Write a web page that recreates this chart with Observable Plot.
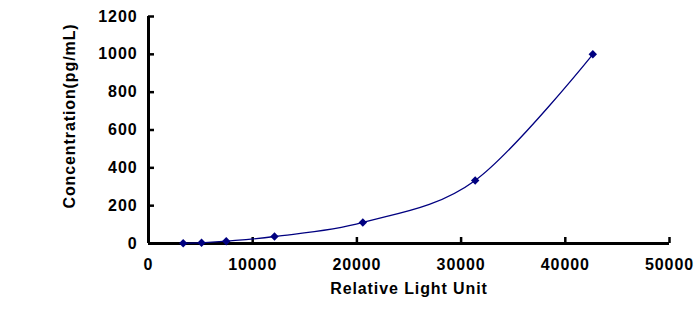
<!DOCTYPE html>
<html>
<head>
<meta charset="utf-8">
<script src="https://cdn.jsdelivr.net/npm/d3@7"></script>
<script src="https://cdn.jsdelivr.net/npm/@observablehq/plot@0.6"></script>
<style>
  html, body { margin: 0; padding: 0; background: #fff; }
  #chart svg { display: block; }
  #chart svg text { letter-spacing: 0.9px; }
</style>
</head>
<body>
<div id="chart"></div>
<script>
const rlu = [3330, 5090, 7460, 12090, 20570, 31350, 42640];
const concentration = [1.37, 4.12, 12.35, 37.04, 111.11, 333.33, 1000];
const xTicks = [0, 10000, 20000, 30000, 40000, 50000];
const yTicks = [0, 200, 400, 600, 800, 1000, 1200];

const data = rlu.map((x, i) => ({x, y: concentration[i]}));
const fmt = d3.format("d");

const chart = Plot.plot({
  width: 698,
  height: 314,
  marginLeft: 148,
  marginRight: 29,
  marginTop: 16,
  marginBottom: 71,
  style: {fontFamily: "'Liberation Sans', Arial, sans-serif", fontSize: "16px", fontWeight: "bold", color: "#000", background: "#fff"},
  x: {domain: [0, 50000]},
  y: {domain: [0, 1200]},
  marks: [
    Plot.axisX(xTicks, {tickSize: -6, tickPadding: 21, strokeWidth: 2.5, tickFormat: fmt, label: "Relative Light Unit", labelArrow: "none", labelAnchor: "center", labelOffset: 50, fontWeight: "bold"}),
    Plot.axisY(yTicks, {tickSize: -6, tickPadding: 17, strokeWidth: 2.5, tickFormat: fmt, label: "Concentration(pg/mL)", labelArrow: "none", labelAnchor: "center", labelOffset: 85, fontWeight: "bold"}),
    Plot.ruleX([0], {stroke: "#000", strokeWidth: 3}),
    Plot.ruleY([0], {stroke: "#000", strokeWidth: 3}),
    Plot.line(data, {x: "x", y: "y", curve: "cardinal", tension: 0, stroke: "#000080", strokeWidth: 1.3}),
    Plot.dot(data, {x: "x", y: "y", symbol: "diamond2", r: 3.8, fill: "#000080", stroke: "none"})
  ]
});
document.getElementById("chart").appendChild(chart);

// shift the y-axis title upward to match the reference placement
d3.select(chart).selectAll('g[aria-label="y-axis label"] text').each(function () {
  const t = this.getAttribute("transform") || "";
  const m = t.match(/translate\(([-\d.]+),\s*([-\d.]+)\)(.*)/);
  if (m) this.setAttribute("transform", `translate(${m[1]},${+m[2] - 14})${m[3]}`);
});
</script>
</body>
</html>
